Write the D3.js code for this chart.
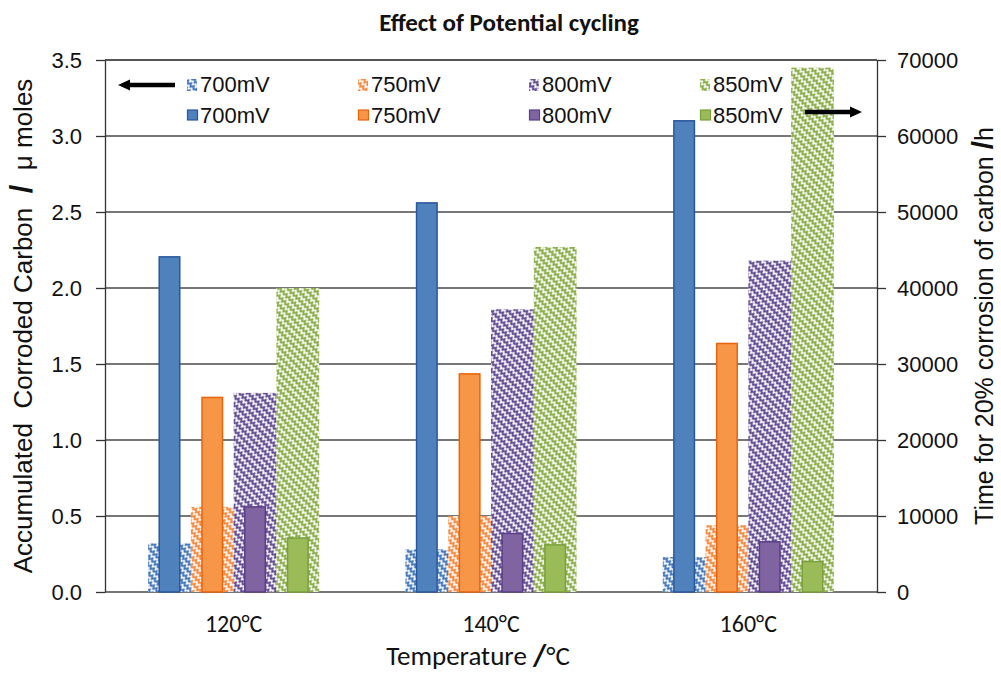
<!DOCTYPE html>
<html>
<head>
<meta charset="utf-8">
<script src="https://cdn.jsdelivr.net/npm/d3@7"></script>
<style>
  html, body { margin: 0; padding: 0; background: #fff; }
  svg { display: block; }
  .arial { font-family: "Liberation Sans", Arial, sans-serif; }
  .calibri { font-family: Carlito, Lato, "Open Sans", sans-serif; }
</style>
</head>
<body>
<svg id="chart" width="1001" height="674"></svg>
<script>
// Categories and series
const categories = ["120°C", "140°C", "160°C"];
const seriesNames = ["700mV", "750mV", "800mV", "850mV"];

// Accumulated corroded carbon (μ moles), left axis, hatched bars
const carbon700 = [0.32, 0.28, 0.23];
const carbon750 = [0.56, 0.50, 0.44];
const carbon800 = [1.31, 1.86, 2.18];
const carbon850 = [2.00, 2.27, 3.45];

// Time for 20% corrosion of carbon (h), right axis, solid bars
const time700 = [44100, 51200, 62000];
const time750 = [25600, 28700, 32700];
const time800 = [11200, 7700, 6600];
const time850 = [7100, 6200, 4000];

// Tick values
const leftTicks = [0, 0.5, 1.0, 1.5, 2.0, 2.5, 3.0, 3.5];
const rightTicks = [0, 10000, 20000, 30000, 40000, 50000, 60000, 70000];

const carbonSeries = [carbon700, carbon750, carbon800, carbon850];
const timeSeries = [time700, time750, time800, time850];

const fills = ["#4F81BD", "#F79646", "#8064A2", "#9BBB59"];
const outlines = ["#2A579B", "#E8640F", "#5A3F86", "#79A03B"];
const hatchInk = ["#3F74BA", "#F5863A", "#5E4790", "#86AB42"];

const svg = d3.select("#chart");
const plot = { left: 105, right: 877, top: 60, bottom: 592 };

const x0 = d3.scaleBand().domain(categories)
  .range([plot.left, plot.right]).paddingInner(0.335).paddingOuter(0.1675);
const x1 = d3.scaleBand().domain(seriesNames).range([0, x0.bandwidth()]);
const yL = d3.scaleLinear().domain([0, 3.5]).range([plot.bottom, plot.top]);
const yR = d3.scaleLinear().domain([0, 70000]).range([plot.bottom, plot.top]);

// Zig-zag hatch patterns, one per series colour
const defs = svg.append("defs");
fills.forEach((c, i) => {
  const p = defs.append("pattern")
    .attr("id", "hatch" + i)
    .attr("patternUnits", "userSpaceOnUse")
    .attr("width", 8).attr("height", 6)
    .attr("patternTransform", "rotate(45)");
  p.append("rect").attr("width", 8).attr("height", 6).attr("fill", "#fff");
  p.append("path")
    .attr("d", "M0,5 L2,1.5 L4,5 L6,1.5 L8,5")
    .attr("fill", "none").attr("stroke", hatchInk[i]).attr("stroke-width", 1.7);
});

// Gridlines
svg.append("g").selectAll("line").data(leftTicks).join("line")
  .attr("x1", plot.left).attr("x2", plot.right)
  .attr("y1", d => yL(d)).attr("y2", d => yL(d))
  .attr("stroke", "#4a4a4a").attr("stroke-width", 1.3);

// Hatched bars (left axis)
const groups = svg.append("g").selectAll("g").data(categories).join("g")
  .attr("transform", d => `translate(${x0(d)},0)`);

groups.each(function (cat, ci) {
  const g = d3.select(this);
  seriesNames.forEach((s, si) => {
    const v = carbonSeries[si][ci];
    g.append("rect")
      .attr("x", x1(s)).attr("width", x1.bandwidth())
      .attr("y", yL(v)).attr("height", yL(0) - yL(v))
      .attr("fill", `url(#hatch${si})`);
  });
});

// Solid bars (right axis)
const solidW = x1.bandwidth() * 0.48;
groups.each(function (cat, ci) {
  const g = d3.select(this);
  seriesNames.forEach((s, si) => {
    const v = timeSeries[si][ci];
    g.append("rect")
      .attr("x", x1(s) + (x1.bandwidth() - solidW) / 2).attr("width", solidW)
      .attr("y", yR(v)).attr("height", yR(0) - yR(v))
      .attr("fill", fills[si]).attr("stroke", outlines[si]).attr("stroke-width", 1.5);
  });
});

// Plot frame
svg.append("line").attr("x1", plot.left).attr("x2", plot.right)
  .attr("y1", plot.top).attr("y2", plot.top)
  .attr("stroke", "#4a4a4a").attr("stroke-width", 1.3);

// Left axis
const axL = svg.append("g").attr("class", "arial")
  .attr("transform", `translate(${plot.left},0)`)
  .call(d3.axisLeft(yL).tickValues(leftTicks).tickFormat(d3.format(".1f"))
    .tickSizeInner(9).tickSizeOuter(0).tickPadding(14));
// Right axis
const axR = svg.append("g").attr("class", "arial")
  .attr("transform", `translate(${plot.right},0)`)
  .call(d3.axisRight(yR).tickValues(rightTicks).tickFormat(d3.format("d"))
    .tickSizeInner(9).tickSizeOuter(0).tickPadding(11));
[axL, axR].forEach(ax => {
  ax.select(".domain").attr("stroke", "#333").attr("stroke-width", 1.3);
  ax.selectAll(".tick line").attr("stroke", "#333").attr("stroke-width", 1.3);
  ax.selectAll(".tick text").attr("fill", "#111").style("font-size", "22px")
    .style("font-family", '"Liberation Sans", Arial, sans-serif');
});

// Category labels
svg.append("g").selectAll("text").data(categories).join("text")
  .attr("class", "calibri")
  .attr("x", d => x0(d) + x0.bandwidth() / 2).attr("y", 632)
  .attr("text-anchor", "middle").attr("fill", "#111")
  .style("font-size", "24px").text(d => d);

// Title
svg.append("text").attr("class", "calibri")
  .attr("x", 509).attr("y", 31).attr("text-anchor", "middle")
  .style("font-size", "25px").style("font-weight", "bold").attr("fill", "#111")
  .text("Effect of Potential cycling");

// X axis title
const xt = svg.append("text").attr("class", "calibri")
  .attr("x", 478).attr("y", 665).attr("text-anchor", "middle")
  .style("font-size", "27px").attr("fill", "#111");
xt.append("tspan").text("Temperature ");
xt.append("tspan").style("font-weight", "bold").style("font-size", "31px").text("/");
xt.append("tspan").text("°C");

// Left axis title
const lt = svg.append("text").attr("class", "arial")
  .attr("transform", `translate(32,${(plot.top + plot.bottom) / 2}) rotate(-90)`)
  .attr("text-anchor", "middle").style("font-size", "26px").attr("fill", "#111")
  .style("white-space", "pre");
lt.append("tspan").text("Accumulated  Corroded Carbon  ");
lt.append("tspan").style("font-weight", "bold").style("font-size", "31px").text("/");
lt.append("tspan").text("  μ moles");

// Right axis title
const rt = svg.append("text").attr("class", "arial")
  .attr("transform", `translate(993,${(plot.top + plot.bottom) / 2}) rotate(-90)`)
  .attr("text-anchor", "middle").style("font-size", "25px").attr("fill", "#111")
  .style("white-space", "pre");
rt.append("tspan").text("Time for 20% corrosion of carbon ");
rt.append("tspan").style("font-weight", "bold").style("font-size", "30px").text("/");
rt.append("tspan").text("h");

// Legend: hatched row (left axis) and solid row (right axis)
const legend = svg.append("g").attr("class", "arial");
const legX = d3.scalePoint().domain(seriesNames).range([187, 700]);
seriesNames.forEach((s, i) => {
  const lx = legX(s);
  legend.append("rect").attr("x", lx).attr("y", 79).attr("width", 10).attr("height", 12)
    .attr("fill", `url(#hatch${i})`);
  legend.append("text").attr("x", lx + 13).attr("y", 92)
    .style("font-size", "22px").attr("fill", "#111").text(s);
  legend.append("rect").attr("x", lx + 0.5).attr("y", 110).attr("width", 10).attr("height", 10)
    .attr("fill", fills[i]).attr("stroke", outlines[i]).attr("stroke-width", 1.2);
  legend.append("text").attr("x", lx + 13).attr("y", 123)
    .style("font-size", "22px").attr("fill", "#111").text(s);
});

// Direction arrows pointing to each axis
function arrow(xTail, xTip, y) {
  const dir = Math.sign(xTip - xTail);
  const head = 12, hw = 5.5, sw = 2.2;
  const xb = xTip - dir * head;
  return `M${xTail},${y - sw} L${xb},${y - sw} L${xb},${y - hw} L${xTip},${y} ` +
         `L${xb},${y + hw} L${xb},${y + sw} L${xTail},${y + sw} Z`;
}
legend.append("path").attr("d", arrow(175, 118, 85)).attr("fill", "#000");
legend.append("path").attr("d", arrow(805, 862, 112)).attr("fill", "#000");
</script>
</body>
</html>
